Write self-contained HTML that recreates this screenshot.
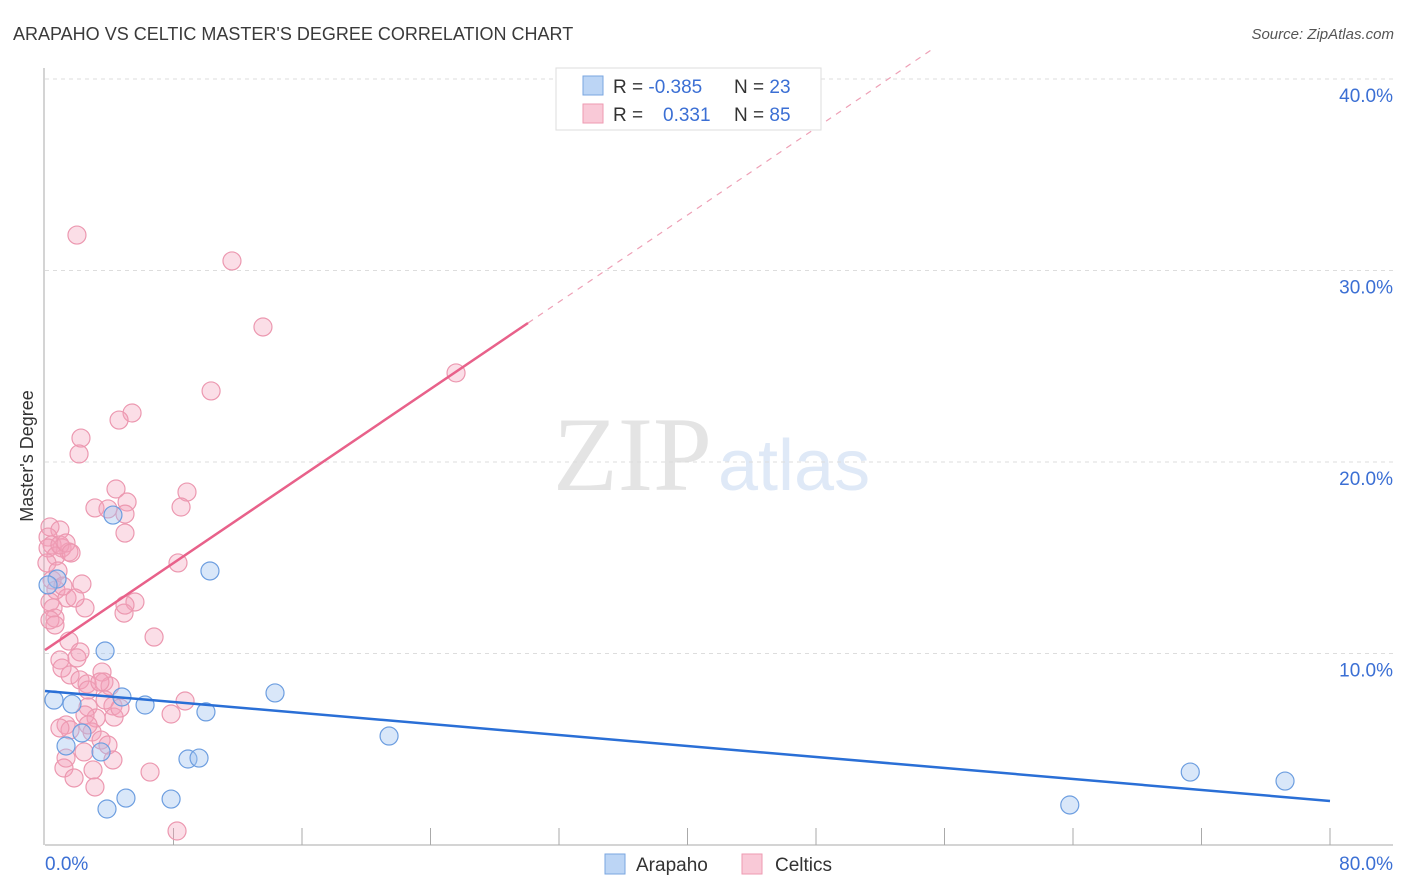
<!DOCTYPE html>
<html><head><meta charset="utf-8"><style>
html,body{margin:0;padding:0;background:#fff;width:1406px;height:892px;overflow:hidden;font-family:"Liberation Sans",sans-serif}
</style></head><body>
<svg id="chart" width="1406" height="892" xmlns="http://www.w3.org/2000/svg" font-family="Liberation Sans, sans-serif">
<text x="13" y="40" font-size="18" fill="#3a3a3a">ARAPAHO VS CELTIC MASTER'S DEGREE CORRELATION CHART</text>
<text x="1394" y="39" font-size="15" font-style="italic" fill="#555" text-anchor="end">Source: ZipAtlas.com</text>
<text x="553" y="490" font-family="Liberation Serif, serif" font-size="106" fill="#e4e4e4">ZIP</text>
<text x="718" y="490" font-size="72" fill="#dfe9f7">atlas</text>
<text transform="translate(33,456) rotate(-90)" font-size="18" fill="#333" text-anchor="middle">Master's Degree</text>
<g id="grid"></g><g id="axes"></g><g id="pink"></g><g id="blue"></g><g id="lines"></g>
<g>
<rect x="556" y="68" width="265" height="62" fill="#fff" stroke="#ddd"/>
<rect x="583" y="76" width="20" height="19" fill="#bcd5f5" stroke="#7aa6e0"/>
<rect x="583" y="104" width="20" height="19" fill="#f9c9d7" stroke="#ee9ab2"/>
<text x="613" y="93" font-size="19" fill="#333">R = <tspan fill="#3b6fd4">-0.385</tspan></text>
<text x="734" y="93" font-size="19" fill="#333">N = <tspan fill="#3b6fd4">23</tspan></text>
<text x="613" y="121" font-size="19" fill="#333">R = <tspan fill="#3b6fd4" x="663">0.331</tspan></text>
<text x="734" y="121" font-size="19" fill="#333">N = <tspan fill="#3b6fd4">85</tspan></text>
</g>
<g>
<rect x="605" y="854" width="20" height="20" fill="#bcd5f5" stroke="#7aa6e0"/>
<text x="636" y="871" font-size="19" fill="#333">Arapaho</text>
<rect x="742" y="854" width="20" height="20" fill="#f9c9d7" stroke="#ee9ab2"/>
<text x="775" y="871" font-size="19" fill="#333">Celtics</text>
</g>
</svg>
<script>
const blueX=[4.23,10.27,0.75,3.74,0.56,1.68,4.79,6.23,10.02,14.32,21.42,2.30,1.31,3.49,8.90,9.59,5.04,7.85,3.86,63.8,71.3,77.2,0.19];
const blueY=[17.23,14.31,13.89,10.13,7.57,7.36,7.73,7.31,6.95,7.94,5.69,5.85,5.17,4.86,4.49,4.54,2.45,2.40,1.88,2.09,3.81,3.34,13.58];
const pinkX=[1.99,11.64,13.57,25.59,10.34,5.42,4.61,2.24,2.12,4.42,8.84,5.11,3.11,3.92,8.47,4.98,4.98,0.31,0.93,0.19,0.44,1.06,1.49,0.19,0.68,0.12,8.28,2.30,0.44,0.68,5.60,1.37,2.49,4.92,0.31,0.50,0.62,0.31,6.79,1.49,2.18,1.99,0.93,1.06,1.56,2.18,3.55,3.67,2.62,4.05,8.72,7.85,2.68,2.68,4.23,3.18,4.30,1.31,1.56,2.93,3.49,3.92,2.43,1.31,4.23,1.18,2.99,1.81,6.54,3.11,8.22,0.93,0.62,1.87,1.31,0.81,1.62,1.12,2.49,3.74,2.68,4.67,0.93,3.42,4.98];
const pinkY=[31.85,30.50,27.05,24.65,23.71,22.56,22.19,21.25,20.42,18.59,18.43,17.91,17.60,17.55,17.65,17.28,16.29,16.61,16.45,16.08,15.67,15.51,15.30,15.51,15.09,14.73,14.73,13.63,13.84,13.32,12.69,12.90,12.38,12.11,12.69,12.38,11.85,11.75,10.86,10.65,10.08,9.77,9.66,9.24,8.88,8.62,9.03,8.51,8.41,8.30,7.52,6.84,8.09,7.21,7.26,6.63,6.68,6.27,6.01,5.90,5.48,5.22,4.86,4.54,4.44,4.02,3.92,3.50,3.81,3.03,0.73,15.67,11.49,12.90,15.77,14.31,15.25,13.52,6.79,7.57,6.27,7.15,6.11,8.51,12.53];
const yTicks=[10,20,30,40];
const yTickLabels=["10.0%","20.0%","30.0%","40.0%"];
const blueTrend=[8.04,2.30];   // y at x=0 and x=80
const pinkTrend=[10.18,0.568]; // intercept, slope
const pinkSolidEnd=30.07;

const NS="http://www.w3.org/2000/svg";
const X=v=>45+v*16.0625;
const Y=v=>845-v*19.15;
function mk(tag,attrs,parent){const e=document.createElementNS(NS,tag);for(const k in attrs)e.setAttribute(k,attrs[k]);parent.appendChild(e);return e;}
const grid=document.getElementById('grid'),axes=document.getElementById('axes');
yTicks.forEach((t,i)=>{
  const l=mk('line',{x1:45,x2:1393,y1:Y(t),y2:Y(t),stroke:'#ddd','stroke-dasharray':'4,4'},grid);
  
  
  const tx=mk('text',{x:1393,y:Y(t)+23,'font-size':19,fill:'#3b6fd4','text-anchor':'end'},axes);
  tx.textContent=yTickLabels[i];
  
  
});
let a=mk('line',{x1:44,x2:44,y1:68,y2:845,stroke:'#aaa'},axes);


a=mk('line',{x1:45,x2:1393,y1:845,y2:845,stroke:'#aaa'},axes);


for(let i=1;i<=10;i++){
  const t=mk('line',{x1:X(i*8),x2:X(i*8),y1:828,y2:845,stroke:'#aaa'},axes);
  
  
}
let t0=mk('text',{x:45,y:870,'font-size':19,fill:'#3b6fd4'},axes);t0.textContent='0.0%';


let t1=mk('text',{x:1393,y:870,'font-size':19,fill:'#3b6fd4','text-anchor':'end'},axes);t1.textContent='80.0%';


const pg=document.getElementById('pink');
pinkX.forEach((x,i)=>{
  const c=mk('circle',{cx:X(x),cy:Y(pinkY[i]),r:9,fill:'rgba(244,160,186,0.35)',stroke:'#ec98b0','stroke-width':1.2},pg);
  
  
});
const bg=document.getElementById('blue');
blueX.forEach((x,i)=>{
  const c=mk('circle',{cx:X(x),cy:Y(blueY[i]),r:9,fill:'rgba(160,196,240,0.4)',stroke:'#6d9ee0','stroke-width':1.2},bg);
  
  
});
const lg=document.getElementById('lines');
let b=mk('line',{x1:X(0),y1:Y(blueTrend[0]),x2:X(80),y2:Y(blueTrend[1]),stroke:'#2a6fd6','stroke-width':2.5},lg);


const pf=x=>pinkTrend[0]+pinkTrend[1]*x;
let p=mk('line',{x1:X(0),y1:Y(pf(0)),x2:X(pinkSolidEnd),y2:Y(pf(pinkSolidEnd)),stroke:'#e8618a','stroke-width':2.5},lg);


const xEnd=(41.5-pinkTrend[0])/pinkTrend[1];
let pd=mk('line',{x1:X(pinkSolidEnd),y1:Y(pf(pinkSolidEnd)),x2:X(xEnd),y2:Y(pf(xEnd)),stroke:'#eea0b6','stroke-width':1.2,'stroke-dasharray':'6,6'},lg);


</script>
</body></html>
